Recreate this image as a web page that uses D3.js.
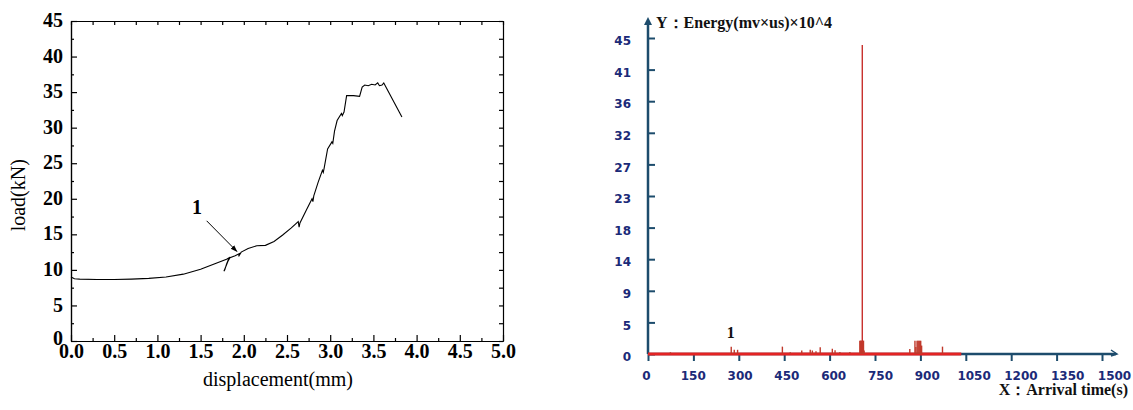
<!DOCTYPE html>
<html>
<head>
<meta charset="utf-8">
<script src="https://cdn.jsdelivr.net/npm/d3@7"></script>
<style>
  body { margin: 0; background: #fff; }
  svg { display: block; }
  .bserif { font-family: "Liberation Serif", "Times New Roman", serif; font-weight: 700; }
  .rserif { font-family: "Liberation Serif", "Times New Roman", serif; font-weight: 400; }
  .bsans { font-family: "DejaVu Sans", Verdana, sans-serif; font-weight: 700; }
</style>
</head>
<body>
<svg id="chart" width="1133" height="410"></svg>
<script>
// left panel: load vs displacement
const dispMm = [0, 0.04, 0.1, 0.3, 0.5, 0.7, 0.9, 1.1, 1.3, 1.5, 1.65, 1.8, 1.83, 1.8, 1.78, 1.77, 1.79, 1.82, 1.84, 1.9, 1.95, 1.94, 1.97, 2.05, 2.15, 2.25, 2.35, 2.45, 2.55, 2.63, 2.64, 2.65, 2.72, 2.79, 2.8, 2.81, 2.86, 2.91, 2.92, 2.93, 2.97, 3.02, 3.03, 3.05, 3.08, 3.13, 3.14, 3.16, 3.19, 3.27, 3.34, 3.37, 3.4, 3.44, 3.48, 3.52, 3.55, 3.57, 3.6, 3.62, 3.83];
const loadKn = [9.0, 8.75, 8.7, 8.65, 8.65, 8.7, 8.8, 9.0, 9.4, 10.1, 10.8, 11.5, 11.7, 10.8, 10.0, 9.8, 10.4, 11.3, 11.7, 12.0, 12.3, 11.9, 12.5, 13.0, 13.4, 13.45, 14.0, 14.9, 15.9, 16.8, 16.0, 16.6, 18.3, 20.0, 19.6, 20.4, 22.3, 24.0, 23.7, 24.3, 27.0, 28.0, 27.8, 29.5, 31.0, 32.0, 31.7, 32.2, 34.5, 34.5, 34.4, 35.7, 36.0, 35.9, 36.1, 36.0, 36.3, 35.9, 36.0, 36.3, 31.5];
const dispTicks = [0, 0.5, 1, 1.5, 2, 2.5, 3, 3.5, 4, 4.5, 5];
const loadTicks = [0, 5, 10, 15, 20, 25, 30, 35, 40, 45];

// right panel: AE energy hits
const hitTime = [74, 275, 285, 296, 444, 470, 508, 536, 543, 555, 569, 609, 618, 634, 667, 700, 702, 704, 706, 708, 710, 712, 714, 865, 882, 885, 889, 892, 895, 898, 901, 904, 973];
const hitEnergy = [0.25, 1.05, 0.6, 0.6, 1.05, 0.25, 0.5, 0.6, 0.5, 0.4, 0.95, 0.75, 0.55, 0.3, 0.3, 1.9, 1.9, 1.9, 1.9, 44, 1.9, 1.9, 0.5, 0.7, 1.9, 1.0, 1.9, 1.9, 1.9, 1.9, 1.9, 1.2, 1.05];
const timeTicks = [0, 150, 300, 450, 600, 750, 900, 1050, 1200, 1350, 1500];
const energyTicks = [0, 4.5, 9, 13.5, 18, 22.5, 27, 31.5, 36, 40.5, 45];
const recordEnd = 1035;

const svg = d3.select("#chart");

// ---------- left panel ----------
const xL = d3.scaleLinear().domain([0, 5]).range([71, 503]);
const yL = d3.scaleLinear().domain([0, 45]).range([341, 21]);

const styleAxis = (g) => {
  g.attr("font-family", null).attr("font-size", null);
  g.selectAll("path, line").attr("stroke", "#000").attr("stroke-width", 1.2);
  g.selectAll("text")
    .attr("class", "bserif")
    .style("font-size", "20px")
    .attr("fill", "#000");
};

const minorX = d3.range(0.25, 5, 0.5);
const minorY = d3.range(2.5, 45, 5);

svg.append("g")
  .attr("transform", `translate(0,${yL(0)})`)
  .call(d3.axisBottom(xL).tickValues(dispTicks).tickFormat(d3.format(".1f"))
    .tickSizeInner(-6).tickSizeOuter(0).tickPadding(3))
  .call(styleAxis);
svg.append("g")
  .attr("transform", `translate(0,${yL(0)})`)
  .call(d3.axisBottom(xL).tickValues(minorX).tickFormat("").tickSizeInner(-3).tickSizeOuter(0))
  .call(styleAxis);
svg.append("g")
  .attr("transform", `translate(0,${yL(45)})`)
  .call(d3.axisTop(xL).tickValues(dispTicks.concat(minorX)).tickFormat("")
    .tickSizeInner(-4).tickSizeOuter(0))
  .call(styleAxis);

svg.append("g")
  .attr("transform", `translate(${xL(0)},0)`)
  .call(d3.axisLeft(yL).tickValues(loadTicks).tickSizeInner(-6).tickSizeOuter(0).tickPadding(8))
  .call(styleAxis)
  .call((g) => g.selectAll("text").attr("dy", (d) => (d === 0 ? "0.18em" : "0.28em")));
svg.append("g")
  .attr("transform", `translate(${xL(0)},0)`)
  .call(d3.axisLeft(yL).tickValues(minorY).tickFormat("").tickSizeInner(-3).tickSizeOuter(0))
  .call(styleAxis);
svg.append("g")
  .attr("transform", `translate(${xL(5)},0)`)
  .call(d3.axisRight(yL).tickValues(loadTicks.concat(minorY)).tickFormat("")
    .tickSizeInner(-4).tickSizeOuter(0))
  .call(styleAxis);

svg.append("path")
  .datum(dispMm.map((d, i) => [d, loadKn[i]]))
  .attr("fill", "none")
  .attr("stroke", "#000")
  .attr("stroke-width", 1.1)
  .attr("d", d3.line().x((d) => xL(d[0])).y((d) => yL(d[1])));

svg.append("text")
  .attr("class", "rserif")
  .attr("transform", `translate(25,${yL(20.5)}) rotate(-90)`)
  .attr("text-anchor", "middle")
  .style("font-size", "20px")
  .text("load(kN)");

svg.append("text")
  .attr("class", "rserif")
  .attr("x", 278)
  .attr("y", 386)
  .attr("text-anchor", "middle")
  .style("font-size", "20px")
  .text("displacement(mm)");

// annotation "1" with arrow
svg.append("defs").append("marker")
  .attr("id", "head")
  .attr("viewBox", "0 0 10 10")
  .attr("refX", 9).attr("refY", 5)
  .attr("markerWidth", 7).attr("markerHeight", 7)
  .attr("orient", "auto")
  .append("path").attr("d", "M0,1.5 L10,5 L0,8.5 Z").attr("fill", "#000");

svg.append("text")
  .attr("class", "bserif")
  .attr("x", xL(1.40)).attr("y", yL(17.9))
  .style("font-size", "20px")
  .text("1");
svg.append("line")
  .attr("x1", xL(1.57)).attr("y1", yL(16.9))
  .attr("x2", xL(1.92)).attr("y2", yL(12.6))
  .attr("stroke", "#000").attr("stroke-width", 1)
  .attr("marker-end", "url(#head)");

// ---------- right panel ----------
const xR = d3.scaleLinear().domain([0, 1500]).range([648, 1102]);
const yR = d3.scaleLinear().domain([0, 45]).range([354, 38]);
// tick labels in the source sit on a slightly wider spacing than the ticks
const xRLabel = d3.scaleLinear().domain([0, 1500]).range([646, 1114]);
const axisBlue = "#1d4c6c";
const labelBlue = "#1b2a78";

const styleR = (g) => {
  g.attr("font-family", null).attr("font-size", null);
  g.select(".domain").remove();
  g.selectAll("line").attr("stroke", axisBlue).attr("stroke-width", 2);
  g.selectAll("text")
    .attr("class", "bsans")
    .style("font-size", "12px")
    .attr("fill", labelBlue);
};

svg.append("g")
  .attr("transform", `translate(0,${yR(0)})`)
  .call(d3.axisBottom(xR).tickValues(timeTicks).tickFormat("").tickSize(7))
  .call(styleR);
svg.append("g")
  .attr("transform", `translate(0,${yR(0)})`)
  .call(d3.axisBottom(xRLabel).tickValues(timeTicks).tickFormat(d3.format("d")).tickSize(0).tickPadding(17))
  .call(styleR)
  .call((g) => g.selectAll("line").remove());

svg.append("g")
  .attr("transform", `translate(${xR(0)},0)`)
  .call(d3.axisLeft(yR).tickValues(energyTicks).tickFormat((d) => Math.round(d))
    .tickSize(-7).tickPadding(17))
  .call(styleR)
  .call((g) => g.selectAll("text").attr("dy", "0.55em"));

// axis lines with arrows
svg.append("line")
  .attr("x1", xR(0)).attr("y1", yR(0))
  .attr("x2", 1116).attr("y2", yR(0))
  .attr("stroke", axisBlue).attr("stroke-width", 2.5);
svg.append("path")
  .attr("d", `M1111,${yR(0) - 4} L1117,${yR(0)} L1111,${yR(0) + 2}`)
  .attr("fill", "none").attr("stroke", axisBlue).attr("stroke-width", 1.5);
svg.append("line")
  .attr("x1", xR(0)).attr("y1", yR(0))
  .attr("x2", xR(0)).attr("y2", 22)
  .attr("stroke", axisBlue).attr("stroke-width", 2.5);
svg.append("path")
  .attr("d", `M${xR(0) - 4},25 L${xR(0)},17 L${xR(0) + 4},25 Z`)
  .attr("fill", axisBlue);

// recorded span in red along the time axis
svg.append("line")
  .attr("x1", xR(0)).attr("y1", yR(0))
  .attr("x2", xR(recordEnd)).attr("y2", yR(0))
  .attr("stroke", "#e32323").attr("stroke-width", 3.2);

svg.append("g")
  .selectAll("line")
  .data(hitTime.map((t, i) => ({ t, e: hitEnergy[i] })))
  .join("line")
  .attr("x1", (d) => xR(d.t)).attr("x2", (d) => xR(d.t))
  .attr("y1", yR(0)).attr("y2", (d) => yR(d.e))
  .attr("stroke", (d) => (d.e > 10 ? "#c8302c" : "#c0392b"))
  .attr("stroke-width", 1.4);

svg.append("text")
  .attr("class", "bserif")
  .attr("x", xR(260)).attr("y", 338)
  .style("font-size", "16px")
  .attr("fill", "#111")
  .text("1");

svg.append("text")
  .attr("class", "bserif")
  .attr("x", 656).attr("y", 28)
  .style("font-size", "16px")
  .attr("fill", "#111")
  .text("Y：Energy(mv×us)×10^4");

svg.append("text")
  .attr("class", "bserif")
  .attr("x", 1128).attr("y", 395)
  .attr("text-anchor", "end")
  .style("font-size", "16px")
  .attr("fill", "#111")
  .text("X：Arrival time(s)");
</script>
</body>
</html>
